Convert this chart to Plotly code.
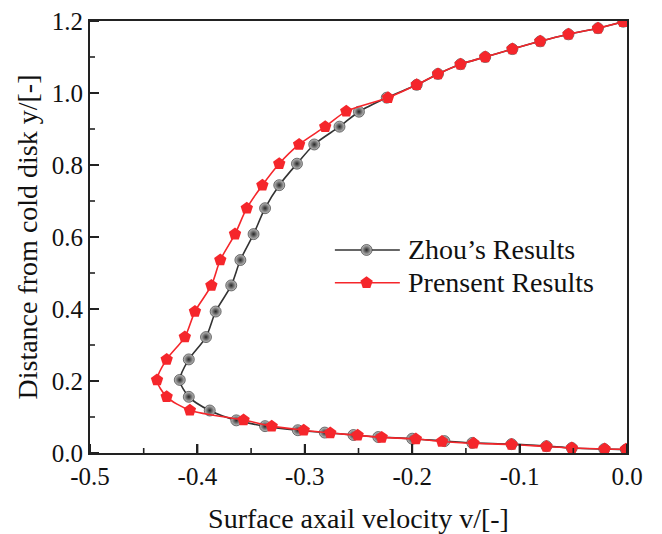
import plotly.graph_objects as go

# Zhou's results: axial velocity (x) vs. distance from cold disk (y)
zhou_v = [-0.001, -0.0212, -0.0514, -0.075, -0.1075, -0.144, -0.170, -0.200,
          -0.2316, -0.2547, -0.2814, -0.3065, -0.337, -0.3638, -0.3885, -0.408,
          -0.4164, -0.408, -0.392, -0.383, -0.3685, -0.360, -0.3477, -0.337,
          -0.3238, -0.3073, -0.2912, -0.2677, -0.2496, -0.2237, -0.1958, -0.176,
          -0.155, -0.132, -0.1067, -0.0808, -0.0545, -0.027, -0.0035]
zhou_y = [0.0094, 0.011, 0.014, 0.019, 0.0246, 0.028, 0.033, 0.0397,
          0.0444, 0.050, 0.0567, 0.0633, 0.0746, 0.0907, 0.118, 0.156,
          0.203, 0.260, 0.322, 0.393, 0.4655, 0.536, 0.608, 0.680,
          0.744, 0.8036, 0.857, 0.9065, 0.948, 0.987, 1.0227, 1.053,
          1.080, 1.100, 1.122, 1.1435, 1.163, 1.180, 1.198]

# Present results
pres_v = [-0.001, -0.0208, -0.0514, -0.075, -0.1075, -0.1429, -0.1723, -0.1966,
          -0.2284, -0.2508, -0.2763, -0.301, -0.3308, -0.357, -0.407, -0.4286,
          -0.4376, -0.4286, -0.4117, -0.4023, -0.387, -0.3787, -0.365, -0.354,
          -0.3395, -0.3238, -0.3053, -0.281, -0.2614, -0.2225, -0.1958, -0.176,
          -0.155, -0.132, -0.1067, -0.0808, -0.0545, -0.027, -0.0035]
pres_y = [0.0104, 0.011, 0.014, 0.018, 0.0236, 0.027, 0.032, 0.0387,
          0.0434, 0.049, 0.0557, 0.0633, 0.0746, 0.0916, 0.119, 0.156,
          0.203, 0.260, 0.322, 0.393, 0.4655, 0.536, 0.608, 0.680,
          0.744, 0.8036, 0.857, 0.9065, 0.949, 0.987, 1.0227, 1.053,
          1.080, 1.100, 1.122, 1.1435, 1.163, 1.180, 1.198]

x_ticks = [-0.5, -0.4, -0.3, -0.2, -0.1, 0.0]
y_ticks = [0.0, 0.2, 0.4, 0.6, 0.8, 1.0, 1.2]
x_minor = [-0.45, -0.35, -0.25, -0.15, -0.05]
y_minor = [0.1, 0.3, 0.5, 0.7, 0.9, 1.1]
series_names = ["Zhou\u2019s Results", "Prensent Results"]

X_RANGE = [-0.5, 0.0]
Y_RANGE = [0.0, 1.2]

FONT = "Liberation Serif, Times New Roman, serif"
BLACK_LINE = "#333333"
RED = "#f5262b"
TEXT = "#111111"
AXIS = "#222222"

W, H = 662, 534
MARGIN = dict(l=90, r=35, t=21, b=81)
PLOT_W = W - MARGIN["l"] - MARGIN["r"]
PLOT_H = H - MARGIN["t"] - MARGIN["b"]
MAJOR_LEN, MINOR_LEN = 9, 5

black_marker = dict(symbol="circle", size=11, color="#c4c4c4",
                    gradient=dict(type="radial", color="#262626"),
                    line=dict(width=0.6, color="#222222"))
red_marker = dict(symbol="pentagon", size=13, color=RED, line=dict(width=0))


def fx(f):
    """Fraction of the plot width -> x data value."""
    return X_RANGE[0] + f * (X_RANGE[1] - X_RANGE[0])


def fy(f):
    """Fraction of the plot height -> y data value."""
    return Y_RANGE[0] + f * (Y_RANGE[1] - Y_RANGE[0])


fig = go.Figure()
fig.add_trace(go.Scatter(
    x=zhou_v, y=zhou_y, mode="lines+markers", name=series_names[0],
    line=dict(color=BLACK_LINE, width=1.6, shape="spline", smoothing=0.8),
    marker=black_marker, showlegend=False))
fig.add_trace(go.Scatter(
    x=pres_v, y=pres_y, mode="lines+markers", name=series_names[1],
    line=dict(color=RED, width=1.6, shape="spline", smoothing=0.8),
    marker=red_marker, showlegend=False))

# Hand-placed legend inside the plot area
leg_rows = [0.470, 0.394]
for f_row, mk, col, name in [(leg_rows[0], black_marker, BLACK_LINE, series_names[0]),
                             (leg_rows[1], red_marker, RED, series_names[1])]:
    yy = fy(f_row)
    fig.add_trace(go.Scatter(
        x=[fx(0.456), fx(0.577)], y=[yy, yy], mode="lines",
        line=dict(color=col, width=1.6), hoverinfo="skip", showlegend=False))
    fig.add_trace(go.Scatter(
        x=[fx(0.515)], y=[yy], mode="markers", marker=mk,
        hoverinfo="skip", showlegend=False))
    fig.add_annotation(x=fx(0.588), y=yy, text=name, showarrow=False,
                       xanchor="left", yanchor="middle",
                       font=dict(family=FONT, size=28, color=TEXT))

# Inward tick marks on the bottom and left axes
for vals, ln, wd in [(x_ticks, MAJOR_LEN, 2), (x_minor, MINOR_LEN, 1.6)]:
    for v in vals:
        fig.add_shape(type="line", xref="x", yref="y domain",
                      x0=v, x1=v, y0=0, y1=ln / PLOT_H,
                      line=dict(color=AXIS, width=wd), layer="above")
for vals, ln, wd in [(y_ticks, MAJOR_LEN, 2), (y_minor, MINOR_LEN, 1.6)]:
    for v in vals:
        fig.add_shape(type="line", xref="x domain", yref="y",
                      x0=0, x1=ln / PLOT_W, y0=v, y1=v,
                      line=dict(color=AXIS, width=wd), layer="above")

axis_common = dict(
    showgrid=False, zeroline=False, showline=True, linecolor=AXIS,
    linewidth=1.8, mirror=True, ticks="inside", ticklen=MAJOR_LEN,
    tickwidth=2, tickcolor=AXIS, automargin=False,
    tickfont=dict(family=FONT, size=25, color=TEXT),
)

fig.update_layout(
    width=W, height=H,
    margin=MARGIN,
    paper_bgcolor="white", plot_bgcolor="white",
    xaxis=dict(range=X_RANGE, tickvals=x_ticks,
               ticktext=[f"{v:.1f}" for v in x_ticks],
               title=dict(text="Surface axail velocity v/[-]", standoff=22,
                          font=dict(family=FONT, size=28, color=TEXT)),
               **axis_common),
    yaxis=dict(range=Y_RANGE, tickvals=y_ticks,
               ticktext=[f"{v:.1f}" for v in y_ticks],
               title=dict(text="Distance from cold disk y/[-]", standoff=6,
                          font=dict(family=FONT, size=28, color=TEXT)),
               **axis_common),
)

fig.write_html("out.html")
